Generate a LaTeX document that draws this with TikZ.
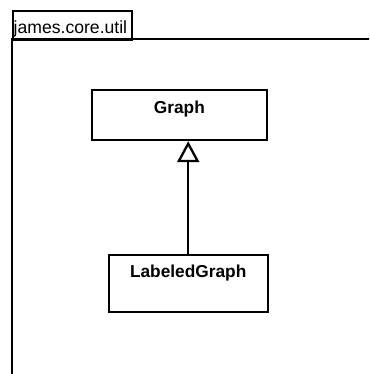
\documentclass[tikz,border=0pt]{standalone}
\usepackage{fontspec}
\setmainfont{Liberation Sans}
\usetikzlibrary{arrows.meta,calc}
\tikzset{
  umlline/.style={draw=black, line width=2.3pt, line join=miter},
  classbox/.style={umlline, rectangle, fill=white, inner sep=0pt},
  classname/.style={inner sep=0pt, anchor=base, font=\fontsize{17.3}{20}\selectfont\bfseries},
  pkgname/.style={inner sep=0pt, anchor=base west, font=\fontsize{17.6}{20}\selectfont},
  generalization/.style={umlline, -{Triangle[open, length=21pt, width=22pt, line width=2.3pt]}}
}
\begin{document}
\begin{tikzpicture}[x=1pt, y=-1pt]
  \useasboundingbox (0,0) rectangle (369,374);
  \fill[white] (0,0) rectangle (369,374);
  \begin{scope}
    \clip (0,0) rectangle (369,374);
    % package tab and body (body runs past the page edges)
    \node[umlline, rectangle, inner sep=0pt, minimum width=119pt, minimum height=29pt, anchor=north west] (tab) at (12,10) {};
    \node[pkgname] (pkgtitle) at (13.5,33.3) {james.core.util};
    \draw[umlline] (12,400) -- (12,39) -- (400,39);
  \end{scope}
  % classes
  \node[classbox, minimum width=174.7pt, minimum height=50pt] (graph) at (179.4,115) {};
  \node[classname] (graphtitle) at ($(graph.north)+(0,24.2)$) {Graph};
  \node[classbox, minimum width=159pt, minimum height=56.7pt] (labeled) at (188.2,283.4) {};
  \node[classname] (labeledtitle) at ($(labeled.north)+(0,24)$) {LabeledGraph};
  % generalization
  \draw[generalization] (labeled.north) -- (labeled.north |- graph.south);
\end{tikzpicture}
\end{document}
